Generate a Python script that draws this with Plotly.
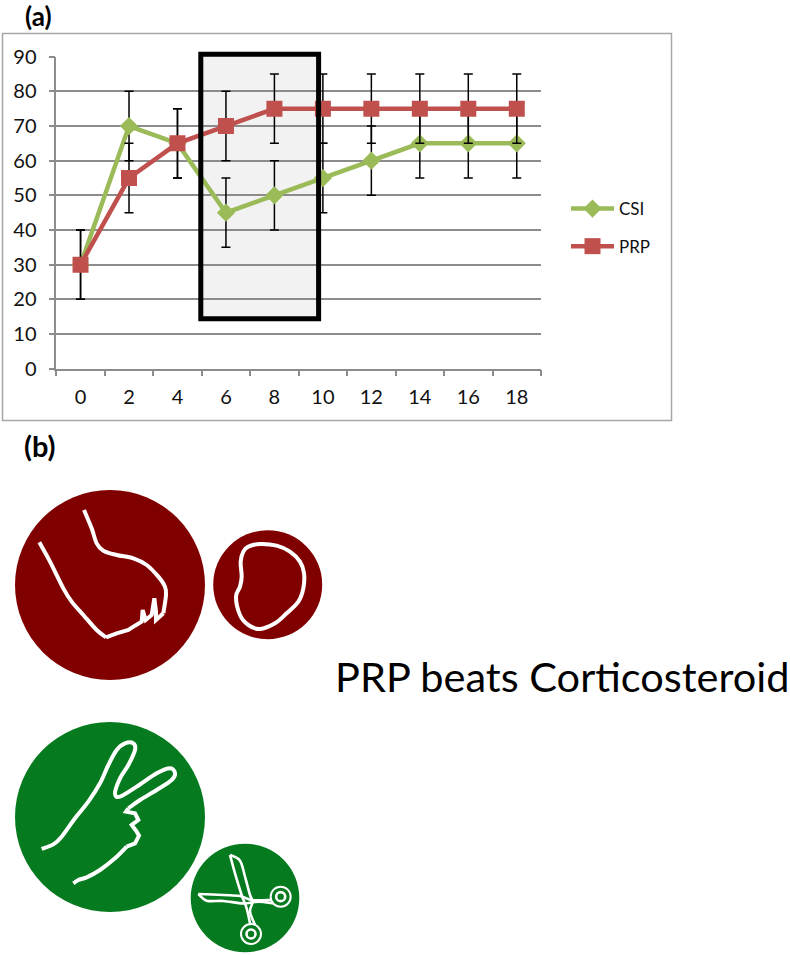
import plotly.graph_objects as go

WIDTH, HEIGHT = 790, 955

# Series read in follow-up weeks
weeks = [0, 2, 4, 6, 8, 10, 12, 14, 16, 18]
csi = [30, 70, 65, 45, 50, 55, 60, 65, 65, 65]
prp = [30, 55, 65, 70, 75, 75, 75, 75, 75, 75]
csi_err = [10, 10, 10, 10, 10, 10, 10, 10, 10, 10]
prp_err = [10, 10, 10, 10, 10, 10, 10, 10, 10, 10]
y_ticks = [0, 10, 20, 30, 40, 50, 60, 70, 80, 90]
series_names = ["CSI", "PRP"]

GREEN = "#9BBB59"
RED = "#C0504D"
GRID = "#8C8C8C"
TEXT_FONT = "Lato"


def fx(x):
    return x / WIDTH


def fy(y):
    return 1 - y / HEIGHT


def pts(raw, ox, oy, k=3.0):
    """Scale sketch points from their drawing grid to page pixels."""
    return [(ox + a / k, oy + b / k) for a, b in raw]


def smooth_path(p, closed=False):
    """Catmull-Rom spline through the points, as an SVG path in page fractions."""
    n = len(p)
    get = (lambda i: p[i % n]) if closed else (lambda i: p[max(0, min(n - 1, i))])
    d = f"M {fx(p[0][0]):.5f} {fy(p[0][1]):.5f}"
    for i in range(n if closed else n - 1):
        p0, p1, p2, p3 = get(i - 1), get(i), get(i + 1), get(i + 2)
        c1 = (p1[0] + (p2[0] - p0[0]) / 6, p1[1] + (p2[1] - p0[1]) / 6)
        c2 = (p2[0] - (p3[0] - p1[0]) / 6, p2[1] - (p3[1] - p1[1]) / 6)
        d += (f" C {fx(c1[0]):.5f} {fy(c1[1]):.5f} {fx(c2[0]):.5f} {fy(c2[1]):.5f}"
              f" {fx(p2[0]):.5f} {fy(p2[1]):.5f}")
    return d + (" Z" if closed else "")


def poly_path(p):
    return "M " + " L ".join(f"{fx(a):.5f} {fy(b):.5f}" for a, b in p)


def curve(p, width=4, closed=False, smooth=True, color="white"):
    return dict(type="path", xref="paper", yref="paper", layer="above",
                path=smooth_path(p, closed) if smooth else poly_path(p),
                line=dict(color=color, width=width))


def disc(cx, cy, r, fill):
    return dict(type="circle", xref="paper", yref="paper", layer="above",
                x0=fx(cx - r), x1=fx(cx + r), y0=fy(cy + r), y1=fy(cy - r),
                fillcolor=fill, line=dict(width=0))


def ring(cx, cy, r, width=2):
    return dict(type="circle", xref="paper", yref="paper", layer="above",
                x0=fx(cx - r), x1=fx(cx + r), y0=fy(cy + r), y1=fy(cy - r),
                fillcolor="rgba(0,0,0,0)", line=dict(color="white", width=width))


def box(x0, y0, x1, y1, **kw):
    return dict(type="rect", xref="paper", yref="paper",
                x0=fx(x0), x1=fx(x1), y0=fy(y1), y1=fy(y0), **kw)


# Hand-gesture icons: outlines on the sketch grid
fist_a = pts([(118, 187), (150, 245), (190, 325), (215, 365), (250, 405), (290, 450), (318, 472)], 0, 480)
fist_b = pts([(318, 472), (350, 460), (385, 450), (405, 437), (425, 425), (428, 390), (437, 420),
              (455, 405), (463, 355), (468, 395), (468, 420), (490, 400)], 0, 480)
fist_c = pts([(490, 400), (498, 345), (495, 320), (475, 290), (440, 255), (400, 235), (350, 225),
              (310, 212), (290, 190), (275, 145), (252, 90)], 0, 480)
stone = pts([(745, 200), (780, 192), (830, 197), (870, 215), (900, 245), (912, 280), (910, 325),
             (895, 365), (860, 400), (825, 430), (780, 447), (745, 435), (720, 405), (708, 350),
             (720, 320), (725, 290), (722, 245), (730, 215)], 0, 480)
peace_a = pts([(125, 402), (160, 388), (185, 365), (225, 310), (265, 260), (300, 205), (325, 150),
               (350, 105), (375, 85), (400, 85), (405, 105), (385, 150), (360, 190), (345, 235),
               (360, 245), (410, 215), (470, 175), (510, 160), (525, 175), (515, 195), (470, 225),
               (420, 255), (385, 280)], 0, 715)
peace_b = pts([(385, 280), (378, 290), (405, 295), (415, 315), (395, 330), (410, 350), (417, 362),
               (405, 385), (380, 395)], 0, 715)
peace_c = pts([(380, 395), (345, 430), (300, 465), (260, 487), (235, 495), (220, 505)], 0, 715)
blade_a1 = pts([(120, 45), (150, 62), (165, 110), (180, 165), (188, 185), (180, 215), (195, 255)], 190, 840)
blade_a2 = pts([(120, 45), (135, 100), (155, 165), (170, 205), (180, 250)], 190, 840)
blade_b1 = pts([(25, 162), (100, 165), (150, 168), (185, 180), (245, 180)], 190, 840)
blade_b2 = pts([(25, 162), (50, 182), (100, 183), (160, 190), (205, 185), (250, 190)], 190, 840)

fig = go.Figure()
for name, values, errors, color, symbol, size in [
    (series_names[0], csi, csi_err, GREEN, "diamond", 14),
    (series_names[1], prp, prp_err, RED, "square", 16),
]:
    fig.add_trace(go.Scatter(
        x=weeks, y=values, name=name, legendgroup=name, mode="lines+markers",
        line=dict(color=color, width=4.5),
        marker=dict(color=color, symbol=symbol, size=size, line=dict(width=0)),
        error_y=dict(type="data", array=errors, color="black", thickness=1.5, width=4.5),
    ))

shapes = [
    # Chart frame and the shaded window behind the series
    box(2.5, 33.5, 671.5, 420.5, layer="below", fillcolor="white", line=dict(color="#A6A6A6", width=1.5)),
    box(200.8, 54.2, 318.6, 318.8, layer="below", fillcolor="#F2F2F2", line=dict(width=0)),
    box(200.8, 54.2, 318.6, 318.8, layer="above", fillcolor="rgba(0,0,0,0)", line=dict(color="black", width=5)),
    # Rock loses: dark red pair
    disc(110, 585, 95, "#800000"),
    disc(267.7, 584.7, 54.5, "#800000"),
    curve(fist_a), curve(fist_b, smooth=False), curve(fist_c),
    curve(stone, closed=True),
    # Scissors win: green pair
    disc(110, 817, 95, "#067A1E"),
    disc(245, 898, 54.3, "#067A1E"),
    curve(peace_a), curve(peace_b, smooth=False), curve(peace_c),
    curve(blade_a1, width=2.6), curve(blade_a2, width=2.6),
    curve(blade_b1, width=2.6), curve(blade_b2, width=2.6),
    ring(190 + 272 / 3, 840 + 170 / 3, 10), ring(190 + 272 / 3, 840 + 170 / 3, 4.5, 2.6),
    ring(190 + 183 / 3, 840 + 282 / 3, 10), ring(190 + 183 / 3, 840 + 282 / 3, 4.5, 2.6),
]

annotations = [
    dict(text="<b>(a)</b>", x=fx(23), y=fy(16), xref="paper", yref="paper", xanchor="left", yanchor="middle",
         showarrow=False, font=dict(family=TEXT_FONT, size=26, color="black")),
    dict(text="<b>(b)</b>", x=fx(22), y=fy(445), xref="paper", yref="paper", xanchor="left", yanchor="middle",
         showarrow=False, font=dict(family=TEXT_FONT, size=29, color="black")),
    dict(text="PRP beats Corticosteroid", x=fx(333), y=fy(676), xref="paper", yref="paper", xanchor="left",
         yanchor="middle", showarrow=False, font=dict(family=TEXT_FONT, size=41.5, color="black")),
]

fig.update_layout(
    width=WIDTH, height=HEIGHT, margin=dict(l=0, r=0, t=0, b=0, autoexpand=False),
    paper_bgcolor="white", plot_bgcolor="rgba(0,0,0,0)",
    font=dict(family=TEXT_FONT, size=20, color="#111111"),
    shapes=shapes, annotations=annotations,
    legend=dict(x=fx(566), y=fy(191), xanchor="left", yanchor="top", itemwidth=43,
                tracegroupgap=12.5, bgcolor="rgba(0,0,0,0)", font=dict(size=17), itemclick=False),
    xaxis=dict(domain=[fx(56.3), fx(541)], range=[-1, 19], tickmode="array", tickvals=weeks,
               ticktext=[str(w) for w in weeks], showgrid=False, zeroline=False, ticks="",
               ticklabelstandoff=10, showline=True, linecolor=GRID, linewidth=1.5,
               minor=dict(tick0=-1, dtick=2, ticks="outside", ticklen=6, tickwidth=1.5, tickcolor=GRID,
                          showgrid=False)),
    yaxis=dict(domain=[fy(368.7), fy(56.7)], range=[0, 90], tickmode="array", tickvals=y_ticks,
               showgrid=True, gridcolor=GRID, gridwidth=1.5, zeroline=False, ticks="outside", ticklen=6,
               tickwidth=1.5, tickcolor=GRID, showline=True, linecolor=GRID, linewidth=1.5,
               ticklabelstandoff=8),
)

fig.write_html("out.html")
